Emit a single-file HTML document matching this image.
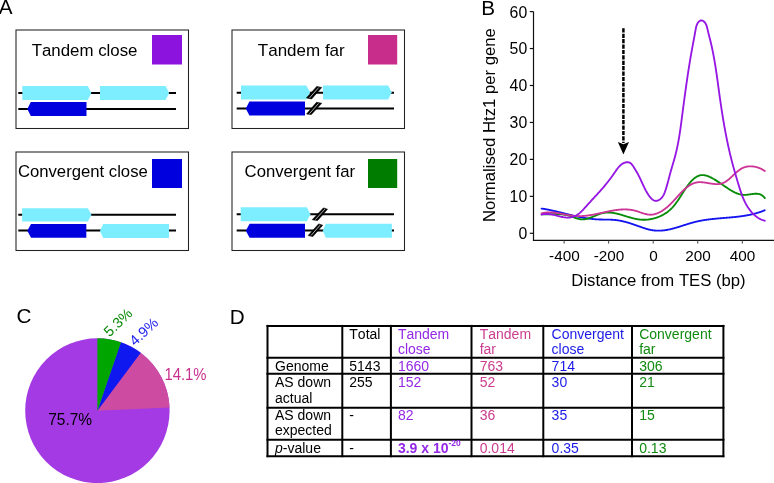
<!DOCTYPE html>
<html><head><meta charset="utf-8"><style>
html,body{margin:0;padding:0;background:#fff;}
body{width:774px;height:483px;overflow:hidden;}
svg{display:block;font-family:"Liberation Sans", sans-serif;will-change:transform;font-kerning:none;}
</style></head><body>
<svg width="774" height="483" viewBox="0 0 774 483" font-family='"Liberation Sans", sans-serif'>
<text x="-1.2" y="14.2" font-size="20.7">A</text>
<rect x="16" y="30" width="172.5" height="98.5" fill="none" stroke="#222" stroke-width="1.05"/>
<text x="31.7" y="55.5" font-size="16.85">Tandem close</text>
<rect x="152" y="35" width="30" height="29.5" fill="#8c12de"/>
<line x1="18.3" y1="93" x2="176" y2="93" stroke="#000" stroke-width="2"/>
<line x1="18.3" y1="109" x2="176" y2="109" stroke="#000" stroke-width="2"/>
<polygon points="22.3,86 87.8,86 91.4,93.0 87.8,100 22.3,100" fill="#7deeff"/>
<polygon points="100,86 165.6,86 169.2,93.0 165.6,100 100,100" fill="#7deeff"/>
<polygon points="27.3,109.0 30.8,102 86.5,102 86.5,116 30.8,116" fill="#0000de"/>
<rect x="232" y="30" width="172.5" height="98.5" fill="none" stroke="#222" stroke-width="1.05"/>
<text x="257.8" y="55.5" font-size="17">Tandem far</text>
<rect x="368" y="35" width="29.2" height="29.5" fill="#c82d8c"/>
<line x1="236.7" y1="92.7" x2="394" y2="92.7" stroke="#000" stroke-width="2"/>
<line x1="236.7" y1="108.6" x2="394" y2="108.6" stroke="#000" stroke-width="2"/>
<polygon points="241,85.6 306.3,85.6 310.2,92.6 306.3,99.6 241,99.6" fill="#7deeff"/>
<polygon points="323,85.6 388.2,85.6 391.7,92.6 388.2,99.6 323,99.6" fill="#7deeff"/>
<polygon points="245.8,108.6 249.4,101.6 305,101.6 305,115.6 249.4,115.6" fill="#0000de"/>
<polygon points="306.4,97.9 311.6,99 321.7,87.5 316.8,86.4" fill="#000" stroke="#000" stroke-width="0.6" stroke-linejoin="round"/>
<line x1="309.51" y1="97.88" x2="318.74" y2="87.52" stroke="#e8e8e8" stroke-width="0.75"/>
<polygon points="306.6,114 311.3,114.6 321.7,103.3 316.5,102.3" fill="#000" stroke="#000" stroke-width="0.6" stroke-linejoin="round"/>
<line x1="309.46" y1="113.72" x2="318.59" y2="103.38" stroke="#e8e8e8" stroke-width="0.75"/>
<rect x="16" y="152" width="172.5" height="98.5" fill="none" stroke="#222" stroke-width="1.05"/>
<text x="17.9" y="176.6" font-size="16.7">Convergent close</text>
<rect x="152" y="159" width="30" height="29" fill="#0000de"/>
<line x1="18.3" y1="214.8" x2="176" y2="214.8" stroke="#000" stroke-width="2"/>
<line x1="18.3" y1="230.6" x2="176" y2="230.6" stroke="#000" stroke-width="2"/>
<polygon points="22.1,208.2 87.9,208.2 91.5,214.89999999999998 87.9,221.6 22.1,221.6" fill="#7deeff"/>
<polygon points="27.3,230.8 31,223.9 86.3,223.9 86.3,237.7 31,237.7" fill="#0000de"/>
<polygon points="99.9,231.0 103.2,224 169,224 169,238 103.2,238" fill="#7deeff"/>
<rect x="232" y="152" width="172.5" height="98.5" fill="none" stroke="#222" stroke-width="1.05"/>
<text x="244.6" y="176.6" font-size="16.7">Convergent far</text>
<rect x="368" y="159" width="29.2" height="29" fill="#007d00"/>
<line x1="236.7" y1="214.2" x2="394" y2="214.2" stroke="#000" stroke-width="2"/>
<line x1="236.7" y1="230.6" x2="394" y2="230.6" stroke="#000" stroke-width="2"/>
<polygon points="240.7,207.2 306.9,207.2 310.4,214.2 306.9,221.2 240.7,221.2" fill="#7deeff"/>
<polygon points="245.8,230.8 249.6,223.8 305,223.8 305,237.8 249.6,237.8" fill="#0000de"/>
<polygon points="322.8,230.8 325.8,223.8 391.9,223.8 391.9,237.8 325.8,237.8" fill="#7deeff"/>
<polygon points="312.2,219.7 317.6,220.6 327.5,209.2 323.4,207.9" fill="#000" stroke="#000" stroke-width="0.6" stroke-linejoin="round"/>
<line x1="315.43" y1="219.57" x2="324.92" y2="209.13" stroke="#e8e8e8" stroke-width="0.75"/>
<polygon points="308.2,235.5 312.8,236.6 322.7,225.2 318.6,223.9" fill="#000" stroke="#000" stroke-width="0.6" stroke-linejoin="round"/>
<line x1="311.01" y1="235.47" x2="320.14" y2="225.12" stroke="#e8e8e8" stroke-width="0.75"/>
<text x="481.3" y="14.9" font-size="20.7">B</text>
<line x1="533.5" y1="11.6" x2="533.5" y2="240.5" stroke="#111" stroke-width="1.2"/>
<line x1="532.9" y1="240.4" x2="774" y2="240.4" stroke="#111" stroke-width="1.2"/>
<line x1="529.8" y1="233.30" x2="533.5" y2="233.30" stroke="#111" stroke-width="1.2"/>
<text x="527.2" y="239.20" font-size="15.8" text-anchor="end">0</text>
<line x1="529.8" y1="196.35" x2="533.5" y2="196.35" stroke="#111" stroke-width="1.2"/>
<text x="527.2" y="202.25" font-size="15.8" text-anchor="end">10</text>
<line x1="529.8" y1="159.40" x2="533.5" y2="159.40" stroke="#111" stroke-width="1.2"/>
<text x="527.2" y="165.30" font-size="15.8" text-anchor="end">20</text>
<line x1="529.8" y1="122.45" x2="533.5" y2="122.45" stroke="#111" stroke-width="1.2"/>
<text x="527.2" y="128.35" font-size="15.8" text-anchor="end">30</text>
<line x1="529.8" y1="85.50" x2="533.5" y2="85.50" stroke="#111" stroke-width="1.2"/>
<text x="527.2" y="91.40" font-size="15.8" text-anchor="end">40</text>
<line x1="529.8" y1="48.55" x2="533.5" y2="48.55" stroke="#111" stroke-width="1.2"/>
<text x="527.2" y="54.45" font-size="15.8" text-anchor="end">50</text>
<line x1="529.8" y1="11.60" x2="533.5" y2="11.60" stroke="#111" stroke-width="1.2"/>
<text x="527.2" y="17.50" font-size="15.8" text-anchor="end">60</text>
<line x1="564.10" y1="240.5" x2="564.10" y2="243.6" stroke="#444" stroke-width="1"/>
<text x="564.40" y="261" font-size="15.3" text-anchor="middle">-400</text>
<line x1="608.65" y1="240.5" x2="608.65" y2="243.6" stroke="#444" stroke-width="1"/>
<text x="608.95" y="261" font-size="15.3" text-anchor="middle">-200</text>
<line x1="653.20" y1="240.5" x2="653.20" y2="243.6" stroke="#444" stroke-width="1"/>
<text x="653.50" y="261" font-size="15.3" text-anchor="middle">0</text>
<line x1="697.75" y1="240.5" x2="697.75" y2="243.6" stroke="#444" stroke-width="1"/>
<text x="698.05" y="261" font-size="15.3" text-anchor="middle">200</text>
<line x1="742.30" y1="240.5" x2="742.30" y2="243.6" stroke="#444" stroke-width="1"/>
<text x="742.60" y="261" font-size="15.3" text-anchor="middle">400</text>
<text x="658.5" y="285.8" font-size="16.7" text-anchor="middle">Distance from TES (bp)</text>
<text transform="translate(495.3,125.1) rotate(-90)" x="0" y="0" font-size="16.7" text-anchor="middle">Normalised Htz1 per gene</text>
<path d="M541.57,208.56 L541.95,208.61 L542.33,208.67 L542.70,208.72 L543.08,208.78 L543.46,208.84 L543.83,208.90 L544.21,208.96 L544.58,209.02 L544.96,209.09 L545.33,209.15 L545.71,209.22 L546.08,209.28 L546.46,209.35 L546.83,209.42 L547.21,209.49 L547.58,209.56 L547.95,209.63 L548.33,209.71 L548.70,209.78 L549.08,209.85 L549.45,209.93 L549.82,210.01 L550.20,210.08 L550.57,210.16 L550.94,210.24 L551.31,210.32 L551.69,210.40 L552.06,210.48 L552.43,210.56 L552.80,210.64 L553.18,210.73 L553.55,210.81 L553.92,210.89 L554.29,210.98 L554.66,211.06 L555.03,211.15 L555.41,211.24 L555.78,211.32 L556.15,211.41 L556.52,211.50 L556.89,211.59 L557.26,211.68 L557.63,211.77 L558.00,211.85 L558.38,211.94 L558.75,212.04 L559.12,212.13 L559.49,212.22 L559.86,212.31 L560.23,212.40 L560.60,212.49 L560.97,212.58 L561.34,212.68 L561.71,212.77 L562.08,212.86 L562.45,212.95 L562.82,213.05 L563.19,213.14 L563.57,213.23 L563.94,213.32 L564.31,213.42 L564.68,213.51 L565.05,213.60 L565.42,213.70 L565.79,213.79 L566.16,213.88 L566.53,213.98 L566.90,214.07 L567.27,214.16 L567.64,214.25 L568.01,214.35 L568.38,214.44 L568.75,214.53 L569.12,214.62 L569.50,214.71 L569.87,214.80 L570.24,214.89 L570.61,214.98 L570.98,215.07 L571.35,215.16 L571.72,215.25 L572.09,215.34 L572.46,215.43 L572.84,215.52 L573.21,215.61 L573.58,215.69 L573.95,215.78 L574.32,215.87 L574.69,215.95 L575.07,216.04 L575.44,216.12 L575.81,216.20 L576.18,216.29 L576.56,216.37 L576.93,216.45 L577.30,216.53 L577.67,216.61 L578.05,216.69 L578.42,216.77 L578.79,216.85 L579.17,216.93 L579.54,217.00 L579.91,217.08 L580.29,217.15 L580.66,217.23 L581.03,217.30 L581.41,217.37 L581.78,217.44 L582.16,217.51 L582.53,217.58 L582.91,217.65 L583.28,217.72 L583.66,217.78 L584.03,217.85 L584.41,217.91 L584.78,217.97 L585.16,218.04 L585.54,218.10 L585.91,218.16 L586.29,218.21 L586.66,218.27 L587.04,218.33 L587.42,218.38 L587.80,218.44 L588.17,218.49 L588.55,218.54 L588.93,218.59 L589.30,218.64 L589.68,218.69 L590.06,218.74 L590.44,218.78 L590.82,218.83 L591.20,218.87 L591.57,218.91 L591.95,218.95 L592.33,218.99 L592.71,219.03 L593.09,219.07 L593.47,219.10 L593.85,219.14 L594.23,219.17 L594.61,219.20 L594.99,219.23 L595.37,219.26 L595.75,219.29 L596.13,219.31 L596.51,219.34 L596.89,219.36 L597.27,219.38 L597.66,219.40 L598.04,219.42 L598.42,219.44 L598.80,219.45 L599.18,219.47 L599.57,219.48 L599.95,219.49 L600.33,219.50 L600.71,219.51 L601.10,219.52 L601.48,219.53 L601.86,219.53 L602.24,219.54 L602.63,219.55 L603.01,219.55 L603.39,219.56 L603.77,219.56 L604.16,219.56 L604.54,219.57 L604.92,219.57 L605.30,219.58 L605.69,219.58 L606.07,219.59 L606.45,219.59 L606.83,219.60 L607.21,219.60 L607.60,219.61 L607.98,219.62 L608.36,219.62 L608.74,219.63 L609.12,219.64 L609.50,219.65 L609.88,219.66 L610.26,219.68 L610.64,219.69 L611.02,219.71 L611.40,219.73 L611.78,219.75 L612.16,219.77 L612.53,219.79 L612.91,219.81 L613.29,219.84 L613.67,219.87 L614.04,219.90 L614.42,219.93 L614.79,219.97 L615.17,220.00 L615.54,220.04 L615.92,220.09 L616.29,220.13 L616.66,220.18 L617.04,220.23 L617.41,220.28 L617.78,220.34 L618.15,220.39 L618.52,220.45 L618.89,220.51 L619.26,220.57 L619.63,220.64 L620.00,220.71 L620.37,220.77 L620.74,220.85 L621.11,220.92 L621.48,220.99 L621.84,221.07 L622.21,221.15 L622.58,221.23 L622.94,221.31 L623.31,221.40 L623.68,221.48 L624.04,221.57 L624.41,221.66 L624.77,221.75 L625.14,221.85 L625.50,221.94 L625.87,222.04 L626.23,222.14 L626.60,222.24 L626.96,222.34 L627.33,222.44 L627.69,222.54 L628.05,222.65 L628.42,222.76 L628.78,222.86 L629.14,222.97 L629.51,223.09 L629.87,223.20 L630.23,223.31 L630.59,223.43 L630.96,223.54 L631.32,223.66 L631.68,223.78 L632.04,223.90 L632.41,224.02 L632.77,224.14 L633.13,224.26 L633.49,224.38 L633.85,224.51 L634.22,224.63 L634.58,224.76 L634.94,224.89 L635.30,225.02 L635.66,225.15 L636.03,225.28 L636.39,225.41 L636.75,225.54 L637.11,225.67 L637.47,225.80 L637.84,225.93 L638.20,226.06 L638.56,226.20 L638.92,226.33 L639.29,226.46 L639.65,226.59 L640.01,226.72 L640.37,226.85 L640.74,226.98 L641.10,227.11 L641.46,227.24 L641.83,227.37 L642.19,227.50 L642.55,227.62 L642.92,227.75 L643.28,227.87 L643.65,227.99 L644.01,228.11 L644.38,228.23 L644.74,228.35 L645.10,228.46 L645.47,228.58 L645.84,228.69 L646.20,228.80 L646.57,228.90 L646.93,229.01 L647.30,229.11 L647.67,229.21 L648.03,229.31 L648.40,229.40 L648.77,229.49 L649.14,229.58 L649.50,229.66 L649.87,229.74 L650.24,229.82 L650.61,229.90 L650.98,229.97 L651.35,230.04 L651.72,230.10 L652.09,230.16 L652.46,230.22 L652.83,230.28 L653.20,230.33 L653.57,230.38 L653.94,230.42 L654.32,230.46 L654.69,230.50 L655.06,230.53 L655.43,230.56 L655.80,230.59 L656.17,230.62 L656.55,230.64 L656.92,230.65 L657.29,230.67 L657.66,230.68 L658.03,230.68 L658.41,230.69 L658.78,230.69 L659.15,230.69 L659.52,230.68 L659.89,230.67 L660.26,230.66 L660.64,230.64 L661.01,230.62 L661.38,230.60 L661.75,230.57 L662.12,230.54 L662.49,230.51 L662.86,230.48 L663.23,230.44 L663.60,230.40 L663.97,230.35 L664.34,230.31 L664.71,230.26 L665.08,230.21 L665.45,230.15 L665.82,230.09 L666.19,230.03 L666.56,229.97 L666.93,229.91 L667.30,229.84 L667.67,229.77 L668.04,229.70 L668.41,229.63 L668.78,229.55 L669.15,229.47 L669.52,229.39 L669.89,229.31 L670.26,229.23 L670.63,229.14 L671.00,229.05 L671.37,228.96 L671.74,228.87 L672.10,228.78 L672.47,228.68 L672.84,228.59 L673.21,228.49 L673.58,228.39 L673.95,228.29 L674.32,228.19 L674.69,228.09 L675.06,227.98 L675.43,227.88 L675.79,227.77 L676.16,227.66 L676.53,227.55 L676.90,227.44 L677.27,227.33 L677.64,227.22 L678.01,227.11 L678.38,227.00 L678.75,226.88 L679.12,226.77 L679.48,226.65 L679.85,226.54 L680.22,226.42 L680.59,226.30 L680.96,226.18 L681.33,226.07 L681.70,225.95 L682.07,225.83 L682.44,225.71 L682.81,225.59 L683.18,225.48 L683.55,225.36 L683.92,225.24 L684.29,225.12 L684.66,225.00 L685.03,224.88 L685.40,224.77 L685.77,224.65 L686.14,224.53 L686.51,224.41 L686.88,224.30 L687.25,224.18 L687.62,224.07 L687.99,223.95 L688.36,223.84 L688.73,223.72 L689.10,223.61 L689.47,223.50 L689.84,223.39 L690.21,223.28 L690.59,223.17 L690.96,223.06 L691.33,222.95 L691.70,222.85 L692.07,222.74 L692.44,222.64 L692.82,222.53 L693.19,222.43 L693.56,222.33 L693.93,222.24 L694.31,222.14 L694.68,222.04 L695.05,221.95 L695.42,221.86 L695.80,221.77 L696.17,221.68 L696.54,221.59 L696.92,221.51 L697.29,221.42 L697.67,221.34 L698.04,221.26 L698.41,221.18 L698.79,221.10 L699.16,221.02 L699.54,220.95 L699.91,220.87 L700.29,220.80 L700.66,220.73 L701.04,220.66 L701.41,220.59 L701.79,220.52 L702.16,220.45 L702.54,220.39 L702.91,220.32 L703.29,220.26 L703.66,220.20 L704.04,220.14 L704.42,220.08 L704.79,220.02 L705.17,219.96 L705.54,219.90 L705.92,219.85 L706.30,219.79 L706.67,219.74 L707.05,219.69 L707.43,219.63 L707.80,219.58 L708.18,219.53 L708.56,219.48 L708.93,219.44 L709.31,219.39 L709.69,219.34 L710.06,219.30 L710.44,219.25 L710.82,219.21 L711.20,219.16 L711.57,219.12 L711.95,219.08 L712.33,219.04 L712.71,219.00 L713.08,218.96 L713.46,218.92 L713.84,218.88 L714.22,218.84 L714.60,218.80 L714.97,218.76 L715.35,218.73 L715.73,218.69 L716.11,218.65 L716.48,218.62 L716.86,218.58 L717.24,218.55 L717.62,218.51 L718.00,218.48 L718.38,218.45 L718.75,218.41 L719.13,218.38 L719.51,218.35 L719.89,218.32 L720.27,218.28 L720.64,218.25 L721.02,218.22 L721.40,218.19 L721.78,218.16 L722.16,218.13 L722.53,218.09 L722.91,218.06 L723.29,218.03 L723.67,218.00 L724.05,217.97 L724.43,217.94 L724.80,217.91 L725.18,217.88 L725.56,217.85 L725.94,217.82 L726.32,217.78 L726.69,217.75 L727.07,217.72 L727.45,217.69 L727.83,217.66 L728.21,217.63 L728.58,217.59 L728.96,217.56 L729.34,217.53 L729.72,217.50 L730.10,217.46 L730.47,217.43 L730.85,217.40 L731.23,217.36 L731.61,217.33 L731.98,217.29 L732.36,217.26 L732.74,217.22 L733.12,217.19 L733.49,217.15 L733.87,217.11 L734.25,217.07 L734.62,217.04 L735.00,217.00 L735.38,216.96 L735.76,216.92 L736.13,216.88 L736.51,216.83 L736.89,216.79 L737.26,216.75 L737.64,216.71 L738.01,216.66 L738.39,216.62 L738.77,216.57 L739.14,216.53 L739.52,216.48 L739.90,216.43 L740.27,216.38 L740.65,216.33 L741.02,216.28 L741.40,216.23 L741.77,216.18 L742.15,216.12 L742.52,216.07 L742.90,216.01 L743.27,215.96 L743.65,215.90 L744.02,215.84 L744.40,215.78 L744.77,215.72 L745.15,215.66 L745.52,215.60 L745.89,215.53 L746.27,215.47 L746.64,215.40 L747.02,215.33 L747.39,215.26 L747.76,215.19 L748.14,215.12 L748.51,215.05 L748.88,214.98 L749.26,214.90 L749.63,214.82 L750.00,214.75 L750.37,214.67 L750.75,214.59 L751.12,214.50 L751.49,214.42 L751.86,214.33 L752.23,214.25 L752.60,214.16 L752.98,214.07 L753.35,213.98 L753.72,213.88 L754.09,213.79 L754.46,213.69 L754.83,213.59 L755.20,213.49 L755.57,213.39 L755.94,213.29 L756.31,213.19 L756.68,213.08 L757.05,212.97 L757.42,212.86 L757.79,212.75 L758.15,212.64 L758.52,212.52 L758.89,212.40 L759.26,212.28 L759.63,212.16 L759.99,212.04 L760.36,211.91 L760.73,211.79 L761.10,211.66 L761.46,211.53 L761.83,211.39 L762.20,211.26 L762.56,211.12 L762.93,210.98 L763.29,210.84 L763.66,210.69 L764.02,210.55 L764.39,210.40 L764.75,210.25" fill="none" stroke="#1414f0" stroke-width="1.85" stroke-linejoin="round" stroke-linecap="round"/>
<path d="M541.60,214.32 L542.02,214.33 L542.44,214.33 L542.87,214.34 L543.29,214.34 L543.71,214.34 L544.13,214.34 L544.55,214.33 L544.98,214.33 L545.40,214.32 L545.82,214.32 L546.24,214.31 L546.66,214.30 L547.08,214.29 L547.50,214.28 L547.92,214.27 L548.35,214.26 L548.77,214.25 L549.19,214.24 L549.61,214.23 L550.03,214.22 L550.45,214.21 L550.87,214.20 L551.29,214.19 L551.71,214.18 L552.13,214.17 L552.54,214.16 L552.96,214.15 L553.38,214.15 L553.80,214.14 L554.22,214.14 L554.64,214.13 L555.06,214.13 L555.47,214.13 L555.89,214.13 L556.31,214.14 L556.73,214.14 L557.14,214.15 L557.56,214.16 L557.98,214.17 L558.39,214.18 L558.81,214.20 L559.23,214.22 L559.64,214.24 L560.06,214.26 L560.48,214.29 L560.89,214.32 L561.31,214.36 L561.72,214.39 L562.14,214.43 L562.55,214.47 L562.97,214.52 L563.38,214.57 L563.79,214.63 L564.21,214.68 L564.62,214.75 L565.03,214.81 L565.45,214.88 L565.86,214.96 L566.27,215.04 L566.69,215.12 L567.10,215.21 L567.51,215.31 L567.92,215.40 L568.33,215.51 L568.74,215.62 L569.15,215.73 L569.57,215.85 L569.98,215.98 L570.39,216.11 L570.80,216.24 L571.21,216.38 L571.62,216.52 L572.02,216.67 L572.43,216.82 L572.84,216.97 L573.25,217.12 L573.66,217.27 L574.07,217.42 L574.48,217.57 L574.89,217.72 L575.29,217.86 L575.70,218.00 L576.11,218.14 L576.52,218.28 L576.92,218.41 L577.33,218.54 L577.74,218.66 L578.15,218.77 L578.55,218.88 L578.96,218.97 L579.37,219.06 L579.78,219.14 L580.18,219.21 L580.59,219.27 L581.00,219.32 L581.41,219.36 L581.81,219.39 L582.22,219.40 L582.63,219.40 L583.04,219.39 L583.44,219.37 L583.85,219.34 L584.26,219.30 L584.67,219.24 L585.08,219.18 L585.48,219.11 L585.89,219.03 L586.30,218.95 L586.71,218.85 L587.11,218.75 L587.52,218.64 L587.93,218.52 L588.34,218.40 L588.74,218.27 L589.15,218.14 L589.56,218.00 L589.97,217.85 L590.37,217.70 L590.78,217.55 L591.19,217.40 L591.60,217.24 L592.00,217.07 L592.41,216.91 L592.82,216.74 L593.22,216.58 L593.63,216.41 L594.04,216.24 L594.44,216.07 L594.85,215.89 L595.25,215.72 L595.66,215.55 L596.06,215.39 L596.47,215.22 L596.88,215.05 L597.28,214.89 L597.69,214.73 L598.09,214.58 L598.49,214.42 L598.90,214.27 L599.30,214.13 L599.71,213.99 L600.11,213.85 L600.51,213.72 L600.92,213.60 L601.32,213.48 L601.72,213.37 L602.13,213.26 L602.53,213.17 L602.93,213.08 L603.33,212.99 L603.73,212.92 L604.13,212.85 L604.54,212.79 L604.94,212.74 L605.34,212.69 L605.74,212.65 L606.14,212.61 L606.54,212.59 L606.94,212.56 L607.34,212.55 L607.74,212.54 L608.14,212.54 L608.54,212.54 L608.94,212.54 L609.33,212.56 L609.73,212.58 L610.13,212.60 L610.53,212.63 L610.93,212.66 L611.33,212.70 L611.73,212.74 L612.13,212.79 L612.52,212.84 L612.92,212.90 L613.32,212.96 L613.72,213.02 L614.12,213.09 L614.52,213.16 L614.92,213.23 L615.31,213.31 L615.71,213.40 L616.11,213.48 L616.51,213.57 L616.91,213.66 L617.31,213.75 L617.71,213.85 L618.10,213.95 L618.50,214.05 L618.90,214.16 L619.30,214.26 L619.70,214.37 L620.10,214.48 L620.50,214.60 L620.90,214.71 L621.30,214.82 L621.70,214.94 L622.10,215.06 L622.50,215.18 L622.90,215.30 L623.30,215.42 L623.70,215.54 L624.11,215.67 L624.51,215.79 L624.91,215.91 L625.31,216.04 L625.71,216.16 L626.12,216.28 L626.52,216.41 L626.92,216.53 L627.32,216.66 L627.73,216.78 L628.13,216.90 L628.54,217.02 L628.94,217.14 L629.35,217.26 L629.75,217.38 L630.16,217.50 L630.56,217.61 L630.97,217.72 L631.38,217.84 L631.78,217.95 L632.19,218.06 L632.60,218.16 L633.01,218.27 L633.42,218.37 L633.83,218.47 L634.24,218.56 L634.65,218.66 L635.06,218.75 L635.47,218.84 L635.88,218.92 L636.29,219.00 L636.70,219.08 L637.12,219.16 L637.53,219.23 L637.95,219.30 L638.36,219.36 L638.78,219.42 L639.19,219.47 L639.61,219.52 L640.02,219.57 L640.44,219.61 L640.86,219.65 L641.28,219.68 L641.70,219.71 L642.12,219.73 L642.54,219.75 L642.96,219.77 L643.38,219.77 L643.80,219.78 L644.22,219.78 L644.65,219.77 L645.07,219.76 L645.49,219.74 L645.91,219.72 L646.33,219.70 L646.76,219.67 L647.18,219.63 L647.60,219.59 L648.02,219.55 L648.44,219.50 L648.87,219.45 L649.29,219.39 L649.71,219.33 L650.13,219.26 L650.54,219.19 L650.96,219.11 L651.38,219.03 L651.80,218.95 L652.21,218.86 L652.63,218.77 L653.04,218.67 L653.46,218.57 L653.87,218.46 L654.28,218.35 L654.69,218.23 L655.10,218.11 L655.51,217.99 L655.91,217.86 L656.32,217.73 L656.72,217.59 L657.12,217.45 L657.52,217.31 L657.92,217.16 L658.32,217.01 L658.71,216.85 L659.10,216.69 L659.50,216.52 L659.88,216.36 L660.27,216.18 L660.66,216.01 L661.04,215.82 L661.42,215.64 L661.80,215.45 L662.18,215.26 L662.55,215.06 L662.92,214.86 L663.29,214.66 L663.66,214.45 L664.02,214.24 L664.39,214.02 L664.75,213.80 L665.10,213.58 L665.46,213.35 L665.81,213.12 L666.15,212.89 L666.50,212.65 L666.84,212.41 L667.18,212.17 L667.51,211.92 L667.85,211.67 L668.18,211.41 L668.50,211.15 L668.82,210.89 L669.14,210.63 L669.46,210.36 L669.77,210.09 L670.08,209.81 L670.38,209.53 L670.69,209.25 L670.98,208.96 L671.28,208.67 L671.57,208.38 L671.86,208.09 L672.14,207.79 L672.42,207.49 L672.70,207.19 L672.98,206.88 L673.25,206.57 L673.52,206.26 L673.79,205.94 L674.06,205.63 L674.32,205.31 L674.58,204.99 L674.84,204.66 L675.10,204.34 L675.35,204.01 L675.60,203.68 L675.85,203.35 L676.10,203.01 L676.35,202.68 L676.59,202.34 L676.84,202.00 L677.08,201.66 L677.32,201.32 L677.56,200.97 L677.80,200.63 L678.03,200.28 L678.27,199.93 L678.50,199.58 L678.74,199.23 L678.97,198.88 L679.20,198.52 L679.43,198.17 L679.66,197.81 L679.89,197.46 L680.12,197.10 L680.35,196.74 L680.58,196.38 L680.81,196.02 L681.03,195.66 L681.26,195.30 L681.49,194.94 L681.72,194.58 L681.95,194.22 L682.18,193.85 L682.40,193.49 L682.63,193.13 L682.86,192.77 L683.09,192.40 L683.33,192.04 L683.56,191.68 L683.79,191.32 L684.02,190.95 L684.26,190.59 L684.49,190.23 L684.73,189.87 L684.97,189.51 L685.21,189.15 L685.45,188.79 L685.69,188.43 L685.94,188.08 L686.18,187.72 L686.43,187.36 L686.68,187.01 L686.93,186.66 L687.18,186.30 L687.44,185.95 L687.70,185.60 L687.96,185.25 L688.22,184.90 L688.48,184.56 L688.75,184.21 L689.02,183.87 L689.29,183.53 L689.57,183.19 L689.84,182.86 L690.12,182.52 L690.40,182.20 L690.69,181.87 L690.97,181.55 L691.26,181.23 L691.55,180.92 L691.85,180.61 L692.15,180.31 L692.44,180.01 L692.75,179.72 L693.05,179.43 L693.36,179.15 L693.67,178.88 L693.98,178.61 L694.29,178.35 L694.61,178.10 L694.93,177.86 L695.25,177.62 L695.58,177.40 L695.90,177.18 L696.23,176.97 L696.56,176.77 L696.90,176.58 L697.24,176.40 L697.58,176.23 L697.92,176.07 L698.26,175.92 L698.61,175.78 L698.96,175.65 L699.32,175.54 L699.67,175.43 L700.03,175.34 L700.39,175.26 L700.75,175.20 L701.12,175.14 L701.49,175.10 L701.86,175.08 L702.23,175.06 L702.61,175.06 L702.99,175.08 L703.37,175.10 L703.75,175.14 L704.13,175.18 L704.52,175.24 L704.91,175.31 L705.30,175.39 L705.69,175.48 L706.08,175.58 L706.47,175.69 L706.86,175.81 L707.26,175.94 L707.66,176.08 L708.05,176.22 L708.45,176.38 L708.85,176.54 L709.24,176.71 L709.64,176.88 L710.04,177.06 L710.44,177.25 L710.84,177.45 L711.24,177.65 L711.63,177.85 L712.03,178.06 L712.43,178.28 L712.83,178.50 L713.22,178.73 L713.62,178.95 L714.01,179.19 L714.40,179.42 L714.79,179.66 L715.18,179.90 L715.57,180.14 L715.96,180.39 L716.34,180.63 L716.73,180.88 L717.11,181.13 L717.49,181.38 L717.86,181.63 L718.24,181.88 L718.61,182.13 L718.98,182.37 L719.35,182.62 L719.71,182.87 L720.08,183.11 L720.44,183.36 L720.79,183.60 L721.15,183.84 L721.50,184.08 L721.85,184.31 L722.20,184.55 L722.54,184.79 L722.89,185.02 L723.23,185.25 L723.57,185.49 L723.91,185.72 L724.26,185.95 L724.60,186.18 L724.94,186.41 L725.28,186.64 L725.62,186.88 L725.96,187.11 L726.31,187.34 L726.65,187.57 L726.99,187.80 L727.34,188.04 L727.69,188.27 L728.03,188.50 L728.38,188.73 L728.73,188.95 L729.08,189.18 L729.43,189.41 L729.78,189.63 L730.13,189.85 L730.49,190.07 L730.84,190.29 L731.20,190.50 L731.55,190.72 L731.91,190.92 L732.27,191.13 L732.63,191.33 L733.00,191.53 L733.36,191.73 L733.72,191.92 L734.09,192.11 L734.46,192.29 L734.83,192.47 L735.20,192.64 L735.57,192.81 L735.94,192.97 L736.32,193.13 L736.69,193.29 L737.07,193.43 L737.45,193.58 L737.83,193.71 L738.22,193.84 L738.60,193.96 L738.99,194.08 L739.38,194.19 L739.77,194.29 L740.16,194.38 L740.55,194.47 L740.95,194.55 L741.35,194.62 L741.75,194.69 L742.15,194.74 L742.55,194.79 L742.96,194.83 L743.37,194.86 L743.78,194.88 L744.19,194.89 L744.61,194.89 L745.02,194.88 L745.44,194.87 L745.86,194.84 L746.28,194.81 L746.71,194.78 L747.13,194.73 L747.56,194.68 L747.99,194.63 L748.42,194.57 L748.84,194.52 L749.27,194.45 L749.70,194.39 L750.13,194.33 L750.56,194.26 L750.99,194.20 L751.42,194.13 L751.85,194.07 L752.27,194.02 L752.70,193.96 L753.12,193.91 L753.55,193.86 L753.97,193.82 L754.39,193.79 L754.81,193.76 L755.23,193.74 L755.64,193.73 L756.06,193.72 L756.47,193.73 L756.87,193.74 L757.28,193.77 L757.68,193.81 L758.08,193.86 L758.47,193.93 L758.86,194.00 L759.25,194.10 L759.64,194.20 L760.02,194.33 L760.39,194.47 L760.76,194.62 L761.13,194.80 L761.49,194.99 L761.85,195.20 L762.20,195.44 L762.55,195.69 L762.89,195.97 L763.23,196.26 L763.56,196.58 L763.88,196.93 L764.20,197.29 L764.51,197.69 L764.82,198.10" fill="none" stroke="#078c07" stroke-width="1.85" stroke-linejoin="round" stroke-linecap="round"/>
<path d="M541.59,213.40 L542.00,213.29 L542.40,213.19 L542.81,213.10 L543.22,213.01 L543.62,212.93 L544.03,212.85 L544.43,212.78 L544.84,212.72 L545.24,212.66 L545.65,212.61 L546.06,212.56 L546.46,212.52 L546.86,212.49 L547.27,212.46 L547.67,212.43 L548.08,212.41 L548.48,212.40 L548.89,212.39 L549.29,212.38 L549.70,212.38 L550.10,212.39 L550.50,212.39 L550.91,212.40 L551.31,212.42 L551.71,212.44 L552.12,212.46 L552.52,212.49 L552.92,212.52 L553.33,212.56 L553.73,212.59 L554.13,212.63 L554.54,212.68 L554.94,212.72 L555.34,212.77 L555.74,212.82 L556.15,212.88 L556.55,212.94 L556.95,212.99 L557.35,213.06 L557.76,213.12 L558.16,213.18 L558.56,213.25 L558.96,213.32 L559.37,213.39 L559.77,213.46 L560.17,213.54 L560.57,213.61 L560.97,213.68 L561.38,213.76 L561.78,213.84 L562.18,213.92 L562.58,213.99 L562.98,214.07 L563.38,214.15 L563.79,214.23 L564.19,214.31 L564.59,214.39 L564.99,214.47 L565.39,214.54 L565.79,214.62 L566.20,214.70 L566.60,214.78 L567.00,214.85 L567.40,214.93 L567.80,215.00 L568.20,215.08 L568.61,215.15 L569.01,215.22 L569.41,215.29 L569.81,215.35 L570.21,215.42 L570.61,215.48 L571.02,215.54 L571.42,215.60 L571.82,215.66 L572.22,215.71 L572.62,215.76 L573.02,215.81 L573.43,215.86 L573.83,215.90 L574.23,215.94 L574.63,215.98 L575.03,216.01 L575.44,216.04 L575.84,216.07 L576.24,216.09 L576.64,216.11 L577.04,216.13 L577.45,216.14 L577.85,216.15 L578.25,216.16 L578.65,216.16 L579.05,216.16 L579.46,216.16 L579.86,216.16 L580.26,216.15 L580.66,216.14 L581.07,216.12 L581.47,216.11 L581.87,216.09 L582.27,216.06 L582.68,216.04 L583.08,216.01 L583.48,215.98 L583.88,215.95 L584.29,215.92 L584.69,215.88 L585.09,215.84 L585.49,215.80 L585.90,215.75 L586.30,215.71 L586.70,215.66 L587.10,215.61 L587.51,215.56 L587.91,215.50 L588.31,215.45 L588.71,215.39 L589.12,215.33 L589.52,215.27 L589.92,215.21 L590.32,215.14 L590.73,215.08 L591.13,215.01 L591.53,214.94 L591.93,214.87 L592.33,214.80 L592.74,214.73 L593.14,214.65 L593.54,214.58 L593.94,214.50 L594.34,214.42 L594.75,214.34 L595.15,214.27 L595.55,214.18 L595.95,214.10 L596.35,214.02 L596.76,213.94 L597.16,213.85 L597.56,213.77 L597.96,213.68 L598.36,213.60 L598.76,213.51 L599.16,213.43 L599.57,213.34 L599.97,213.25 L600.37,213.16 L600.77,213.08 L601.17,212.99 L601.57,212.90 L601.97,212.81 L602.37,212.72 L602.77,212.63 L603.17,212.55 L603.57,212.46 L603.97,212.37 L604.37,212.28 L604.77,212.19 L605.17,212.11 L605.57,212.02 L605.97,211.93 L606.37,211.85 L606.77,211.76 L607.17,211.68 L607.57,211.59 L607.97,211.51 L608.37,211.43 L608.77,211.35 L609.17,211.27 L609.57,211.19 L609.97,211.11 L610.37,211.03 L610.76,210.95 L611.16,210.88 L611.56,210.80 L611.96,210.73 L612.36,210.66 L612.76,210.59 L613.15,210.52 L613.55,210.45 L613.95,210.39 L614.35,210.32 L614.75,210.26 L615.14,210.20 L615.54,210.14 L615.94,210.09 L616.34,210.03 L616.73,209.98 L617.13,209.93 L617.53,209.88 L617.93,209.83 L618.32,209.79 L618.72,209.75 L619.12,209.71 L619.51,209.67 L619.91,209.63 L620.31,209.60 L620.70,209.57 L621.10,209.54 L621.49,209.52 L621.89,209.50 L622.29,209.48 L622.68,209.46 L623.08,209.45 L623.47,209.43 L623.87,209.43 L624.26,209.42 L624.66,209.42 L625.05,209.42 L625.45,209.43 L625.84,209.43 L626.24,209.45 L626.63,209.46 L627.03,209.48 L627.42,209.50 L627.82,209.52 L628.21,209.55 L628.61,209.58 L629.00,209.62 L629.39,209.66 L629.79,209.70 L630.18,209.75 L630.58,209.80 L630.97,209.86 L631.36,209.92 L631.76,209.98 L632.15,210.05 L632.54,210.12 L632.94,210.20 L633.33,210.28 L633.72,210.36 L634.11,210.45 L634.51,210.54 L634.90,210.64 L635.29,210.75 L635.68,210.85 L636.08,210.96 L636.47,211.08 L636.86,211.20 L637.25,211.32 L637.64,211.45 L638.03,211.58 L638.43,211.71 L638.82,211.84 L639.21,211.98 L639.60,212.11 L639.99,212.25 L640.38,212.39 L640.78,212.52 L641.17,212.66 L641.56,212.79 L641.95,212.93 L642.34,213.06 L642.73,213.19 L643.13,213.31 L643.52,213.44 L643.91,213.56 L644.30,213.68 L644.69,213.79 L645.09,213.90 L645.48,214.00 L645.87,214.10 L646.27,214.19 L646.66,214.28 L647.05,214.36 L647.44,214.43 L647.84,214.50 L648.23,214.55 L648.63,214.60 L649.02,214.65 L649.41,214.68 L649.81,214.70 L650.20,214.72 L650.60,214.72 L651.00,214.72 L651.39,214.70 L651.79,214.67 L652.18,214.63 L652.58,214.58 L652.98,214.53 L653.37,214.46 L653.77,214.38 L654.16,214.29 L654.55,214.20 L654.95,214.09 L655.34,213.98 L655.73,213.86 L656.12,213.73 L656.50,213.60 L656.89,213.46 L657.27,213.31 L657.66,213.15 L658.03,212.99 L658.41,212.82 L658.79,212.65 L659.16,212.47 L659.53,212.29 L659.90,212.10 L660.26,211.91 L660.62,211.71 L660.98,211.51 L661.33,211.30 L661.69,211.09 L662.04,210.88 L662.38,210.66 L662.73,210.44 L663.07,210.22 L663.41,209.99 L663.75,209.75 L664.08,209.52 L664.41,209.28 L664.74,209.04 L665.07,208.79 L665.39,208.54 L665.72,208.29 L666.04,208.03 L666.36,207.77 L666.67,207.51 L666.99,207.25 L667.30,206.98 L667.61,206.71 L667.92,206.44 L668.23,206.17 L668.53,205.89 L668.84,205.61 L669.14,205.33 L669.44,205.05 L669.74,204.76 L670.04,204.47 L670.34,204.19 L670.63,203.89 L670.92,203.60 L671.22,203.31 L671.51,203.01 L671.80,202.72 L672.09,202.42 L672.38,202.12 L672.67,201.82 L672.95,201.51 L673.24,201.21 L673.53,200.91 L673.81,200.60 L674.09,200.30 L674.38,199.99 L674.66,199.68 L674.94,199.37 L675.22,199.07 L675.51,198.76 L675.79,198.45 L676.07,198.14 L676.35,197.83 L676.63,197.52 L676.91,197.21 L677.19,196.90 L677.47,196.60 L677.75,196.29 L678.03,195.98 L678.31,195.67 L678.59,195.36 L678.87,195.06 L679.16,194.75 L679.44,194.45 L679.72,194.14 L680.00,193.84 L680.29,193.54 L680.57,193.24 L680.85,192.94 L681.14,192.64 L681.42,192.34 L681.71,192.04 L682.00,191.75 L682.29,191.46 L682.58,191.17 L682.87,190.88 L683.16,190.59 L683.45,190.31 L683.74,190.03 L684.04,189.75 L684.33,189.48 L684.63,189.20 L684.93,188.94 L685.23,188.67 L685.53,188.41 L685.83,188.15 L686.13,187.89 L686.44,187.64 L686.74,187.39 L687.05,187.15 L687.36,186.91 L687.67,186.67 L687.98,186.44 L688.30,186.21 L688.61,185.99 L688.93,185.77 L689.25,185.56 L689.57,185.35 L689.89,185.15 L690.22,184.96 L690.55,184.76 L690.88,184.58 L691.21,184.40 L691.54,184.23 L691.88,184.06 L692.22,183.90 L692.56,183.74 L692.90,183.59 L693.24,183.45 L693.59,183.31 L693.94,183.19 L694.29,183.06 L694.65,182.95 L695.00,182.84 L695.36,182.74 L695.72,182.65 L696.09,182.57 L696.46,182.49 L696.83,182.42 L697.20,182.36 L697.58,182.31 L697.95,182.26 L698.34,182.23 L698.72,182.20 L699.11,182.18 L699.50,182.17 L699.89,182.17 L700.29,182.17 L700.68,182.18 L701.08,182.19 L701.48,182.21 L701.89,182.24 L702.29,182.27 L702.70,182.31 L703.11,182.35 L703.52,182.40 L703.93,182.45 L704.34,182.50 L704.76,182.55 L705.17,182.61 L705.59,182.68 L706.00,182.74 L706.42,182.81 L706.84,182.87 L707.26,182.94 L707.68,183.01 L708.10,183.08 L708.52,183.15 L708.94,183.22 L709.36,183.29 L709.78,183.36 L710.20,183.43 L710.62,183.50 L711.04,183.56 L711.46,183.63 L711.87,183.69 L712.29,183.75 L712.71,183.80 L713.12,183.85 L713.54,183.90 L713.95,183.94 L714.36,183.98 L714.77,184.02 L715.18,184.05 L715.59,184.07 L715.99,184.09 L716.40,184.10 L716.80,184.11 L717.20,184.11 L717.60,184.10 L717.99,184.08 L718.38,184.06 L718.77,184.03 L719.16,183.99 L719.55,183.94 L719.93,183.89 L720.31,183.82 L720.69,183.74 L721.06,183.66 L721.43,183.56 L721.80,183.45 L722.16,183.33 L722.52,183.21 L722.88,183.07 L723.23,182.92 L723.58,182.76 L723.93,182.60 L724.28,182.42 L724.62,182.24 L724.96,182.05 L725.30,181.85 L725.63,181.64 L725.97,181.43 L726.30,181.21 L726.63,180.98 L726.96,180.75 L727.28,180.51 L727.61,180.26 L727.93,180.01 L728.25,179.75 L728.57,179.49 L728.89,179.23 L729.21,178.96 L729.53,178.69 L729.84,178.41 L730.16,178.13 L730.47,177.85 L730.78,177.56 L731.10,177.27 L731.41,176.98 L731.72,176.69 L732.03,176.40 L732.35,176.10 L732.66,175.81 L732.97,175.51 L733.28,175.22 L733.59,174.92 L733.91,174.63 L734.22,174.33 L734.53,174.04 L734.85,173.74 L735.16,173.45 L735.48,173.16 L735.80,172.88 L736.11,172.59 L736.43,172.31 L736.75,172.03 L737.08,171.76 L737.40,171.49 L737.73,171.22 L738.05,170.96 L738.38,170.70 L738.71,170.45 L739.04,170.20 L739.38,169.95 L739.71,169.72 L740.05,169.49 L740.40,169.26 L740.74,169.05 L741.09,168.83 L741.43,168.63 L741.79,168.44 L742.14,168.25 L742.50,168.07 L742.86,167.90 L743.23,167.74 L743.59,167.58 L743.96,167.44 L744.34,167.31 L744.71,167.18 L745.09,167.06 L745.48,166.96 L745.86,166.86 L746.25,166.77 L746.64,166.68 L747.03,166.61 L747.42,166.54 L747.82,166.49 L748.21,166.44 L748.61,166.40 L749.01,166.37 L749.41,166.34 L749.81,166.32 L750.21,166.31 L750.62,166.31 L751.02,166.32 L751.43,166.33 L751.83,166.36 L752.24,166.39 L752.64,166.42 L753.05,166.47 L753.45,166.52 L753.85,166.58 L754.26,166.64 L754.66,166.71 L755.07,166.79 L755.47,166.88 L755.87,166.97 L756.27,167.07 L756.67,167.18 L757.06,167.29 L757.46,167.41 L757.85,167.54 L758.24,167.67 L758.63,167.81 L759.02,167.95 L759.41,168.10 L759.79,168.26 L760.17,168.42 L760.55,168.59 L760.92,168.77 L761.29,168.95 L761.66,169.13 L762.03,169.33 L762.39,169.52 L762.75,169.72 L763.10,169.93 L763.46,170.15 L763.80,170.36 L764.15,170.59 L764.48,170.82 L764.82,171.05" fill="none" stroke="#cc3596" stroke-width="1.85" stroke-linejoin="round" stroke-linecap="round"/>
<path d="M541.63,214.64 L542.55,214.39 L543.47,214.20 L544.39,214.07 L545.32,213.99 L546.26,213.96 L547.19,213.97 L548.13,214.02 L549.07,214.10 L550.01,214.22 L550.96,214.37 L551.90,214.54 L552.85,214.73 L553.80,214.94 L554.75,215.16 L555.70,215.39 L556.65,215.63 L557.60,215.87 L558.55,216.11 L559.50,216.34 L560.44,216.57 L561.39,216.78 L562.33,216.97 L563.27,217.15 L564.21,217.30 L565.14,217.42 L566.07,217.51 L567.00,217.56 L567.93,217.58 L568.85,217.55 L569.76,217.48 L570.67,217.35 L571.58,217.17 L572.47,216.94 L573.36,216.65 L574.24,216.31 L575.11,215.93 L575.95,215.50 L576.78,215.04 L577.59,214.53 L578.37,214.00 L579.12,213.44 L579.85,212.85 L580.57,212.24 L581.26,211.60 L581.94,210.95 L582.60,210.28 L583.25,209.59 L583.90,208.90 L584.53,208.19 L585.16,207.48 L585.79,206.77 L586.42,206.05 L587.06,205.34 L587.69,204.63 L588.33,203.92 L588.97,203.21 L589.61,202.51 L590.25,201.81 L590.89,201.10 L591.54,200.40 L592.18,199.70 L592.83,199.00 L593.47,198.30 L594.12,197.61 L594.76,196.91 L595.41,196.21 L596.05,195.51 L596.69,194.82 L597.34,194.12 L597.97,193.42 L598.61,192.72 L599.25,192.02 L599.88,191.32 L600.51,190.61 L601.13,189.91 L601.76,189.20 L602.37,188.50 L602.99,187.79 L603.60,187.07 L604.21,186.36 L604.81,185.64 L605.40,184.92 L606.00,184.20 L606.59,183.47 L607.17,182.74 L607.75,182.01 L608.33,181.27 L608.90,180.53 L609.47,179.78 L610.04,179.03 L610.61,178.27 L611.17,177.51 L611.73,176.74 L612.29,175.96 L612.85,175.18 L613.41,174.39 L613.96,173.59 L614.51,172.79 L615.07,171.98 L615.62,171.16 L616.18,170.35 L616.75,169.55 L617.33,168.76 L617.93,168.00 L618.54,167.25 L619.17,166.53 L619.82,165.85 L620.51,165.21 L621.22,164.61 L621.96,164.07 L622.73,163.57 L623.55,163.14 L624.40,162.78 L625.29,162.49 L626.19,162.29 L627.09,162.19 L627.98,162.21 L628.84,162.36 L629.66,162.65 L630.42,163.09 L631.13,163.67 L631.79,164.36 L632.41,165.13 L633.00,165.97 L633.57,166.84 L634.12,167.72 L634.66,168.59 L635.19,169.45 L635.70,170.30 L636.21,171.15 L636.70,171.99 L637.18,172.83 L637.64,173.66 L638.09,174.49 L638.53,175.32 L638.95,176.15 L639.37,176.97 L639.77,177.80 L640.16,178.62 L640.55,179.45 L640.93,180.28 L641.31,181.10 L641.69,181.93 L642.07,182.76 L642.45,183.59 L642.83,184.43 L643.22,185.26 L643.61,186.10 L644.01,186.94 L644.43,187.79 L644.85,188.64 L645.29,189.49 L645.74,190.35 L646.22,191.21 L646.70,192.08 L647.21,192.95 L647.75,193.83 L648.30,194.70 L648.88,195.57 L649.48,196.41 L650.11,197.22 L650.75,197.97 L651.43,198.67 L652.12,199.29 L652.84,199.82 L653.59,200.26 L654.36,200.58 L655.15,200.78 L655.97,200.84 L656.81,200.75 L657.66,200.52 L658.52,200.17 L659.36,199.70 L660.17,199.14 L660.93,198.51 L661.63,197.81 L662.26,197.06 L662.82,196.27 L663.32,195.44 L663.78,194.58 L664.19,193.70 L664.56,192.80 L664.91,191.88 L665.23,190.96 L665.55,190.04 L665.85,189.13 L666.14,188.21 L666.42,187.29 L666.69,186.38 L666.96,185.47 L667.22,184.55 L667.47,183.64 L667.72,182.73 L667.96,181.82 L668.21,180.92 L668.44,180.01 L668.68,179.10 L668.92,178.19 L669.15,177.29 L669.39,176.38 L669.63,175.47 L669.87,174.56 L670.12,173.66 L670.36,172.75 L670.62,171.84 L670.87,170.93 L671.13,170.02 L671.40,169.12 L671.66,168.21 L671.93,167.30 L672.19,166.38 L672.46,165.47 L672.73,164.56 L673.00,163.65 L673.27,162.74 L673.53,161.82 L673.80,160.91 L674.06,159.99 L674.32,159.08 L674.57,158.16 L674.83,157.24 L675.07,156.33 L675.32,155.41 L675.56,154.49 L675.79,153.57 L676.01,152.65 L676.24,151.73 L676.45,150.81 L676.66,149.88 L676.87,148.96 L677.07,148.04 L677.27,147.11 L677.46,146.18 L677.65,145.26 L677.84,144.33 L678.02,143.40 L678.19,142.48 L678.36,141.55 L678.53,140.62 L678.70,139.69 L678.86,138.76 L679.02,137.83 L679.17,136.90 L679.33,135.96 L679.48,135.03 L679.62,134.10 L679.77,133.17 L679.91,132.23 L680.05,131.30 L680.19,130.36 L680.32,129.43 L680.46,128.49 L680.59,127.56 L680.72,126.62 L680.85,125.68 L680.98,124.75 L681.10,123.81 L681.23,122.87 L681.35,121.93 L681.47,120.99 L681.60,120.06 L681.72,119.12 L681.84,118.18 L681.96,117.24 L682.08,116.30 L682.20,115.36 L682.33,114.42 L682.45,113.48 L682.57,112.54 L682.69,111.60 L682.81,110.66 L682.94,109.72 L683.06,108.78 L683.18,107.84 L683.30,106.89 L683.43,105.95 L683.55,105.01 L683.68,104.07 L683.80,103.13 L683.93,102.19 L684.05,101.25 L684.18,100.31 L684.30,99.36 L684.43,98.42 L684.56,97.48 L684.68,96.54 L684.81,95.60 L684.94,94.66 L685.07,93.72 L685.20,92.77 L685.33,91.83 L685.46,90.89 L685.59,89.95 L685.72,89.01 L685.85,88.07 L685.98,87.13 L686.11,86.19 L686.25,85.25 L686.38,84.31 L686.52,83.37 L686.65,82.43 L686.79,81.49 L686.93,80.55 L687.06,79.62 L687.20,78.68 L687.34,77.74 L687.48,76.80 L687.62,75.86 L687.76,74.93 L687.90,73.99 L688.05,73.05 L688.19,72.12 L688.33,71.18 L688.48,70.25 L688.62,69.31 L688.77,68.38 L688.92,67.44 L689.07,66.51 L689.22,65.58 L689.37,64.64 L689.52,63.71 L689.67,62.78 L689.82,61.85 L689.98,60.92 L690.13,59.99 L690.29,59.06 L690.44,58.13 L690.60,57.20 L690.76,56.27 L690.92,55.34 L691.08,54.42 L691.24,53.49 L691.41,52.57 L691.57,51.64 L691.74,50.72 L691.90,49.79 L692.07,48.87 L692.24,47.95 L692.41,47.03 L692.58,46.10 L692.75,45.18 L692.92,44.26 L693.09,43.33 L693.27,42.41 L693.44,41.48 L693.62,40.55 L693.79,39.62 L693.96,38.69 L694.14,37.75 L694.31,36.81 L694.49,35.87 L694.66,34.92 L694.84,33.97 L695.01,33.02 L695.18,32.06 L695.35,31.10 L695.53,30.13 L695.70,29.16 L695.89,28.19 L696.10,27.23 L696.35,26.29 L696.64,25.37 L696.98,24.49 L697.39,23.63 L697.88,22.83 L698.44,22.07 L699.08,21.41 L699.78,20.89 L700.52,20.53 L701.30,20.40 L702.10,20.51 L702.89,20.82 L703.65,21.31 L704.36,21.93 L704.99,22.65 L705.52,23.43 L705.97,24.27 L706.35,25.15 L706.67,26.07 L706.95,27.01 L707.20,27.97 L707.43,28.94 L707.65,29.90 L707.88,30.85 L708.11,31.80 L708.34,32.74 L708.58,33.67 L708.81,34.60 L709.05,35.52 L709.28,36.44 L709.51,37.35 L709.74,38.27 L709.97,39.18 L710.20,40.09 L710.43,41.00 L710.65,41.91 L710.87,42.82 L711.08,43.73 L711.30,44.64 L711.50,45.56 L711.71,46.47 L711.91,47.39 L712.11,48.31 L712.30,49.23 L712.49,50.15 L712.68,51.07 L712.87,51.99 L713.05,52.92 L713.23,53.84 L713.41,54.77 L713.58,55.69 L713.76,56.62 L713.93,57.55 L714.09,58.48 L714.26,59.41 L714.42,60.34 L714.58,61.27 L714.74,62.20 L714.90,63.13 L715.05,64.06 L715.20,65.00 L715.35,65.93 L715.50,66.87 L715.65,67.80 L715.79,68.74 L715.94,69.68 L716.08,70.61 L716.22,71.55 L716.36,72.49 L716.50,73.43 L716.63,74.37 L716.77,75.31 L716.91,76.25 L717.04,77.19 L717.17,78.13 L717.30,79.07 L717.44,80.01 L717.57,80.95 L717.70,81.89 L717.83,82.83 L717.96,83.77 L718.09,84.72 L718.21,85.66 L718.34,86.60 L718.47,87.54 L718.60,88.48 L718.73,89.43 L718.86,90.37 L718.99,91.31 L719.11,92.25 L719.24,93.19 L719.37,94.13 L719.50,95.07 L719.63,96.02 L719.76,96.96 L719.90,97.90 L720.03,98.84 L720.16,99.78 L720.29,100.72 L720.43,101.66 L720.57,102.59 L720.70,103.53 L720.84,104.47 L720.98,105.41 L721.12,106.35 L721.26,107.29 L721.40,108.22 L721.54,109.16 L721.69,110.10 L721.83,111.03 L721.98,111.97 L722.12,112.90 L722.27,113.84 L722.42,114.77 L722.57,115.71 L722.72,116.64 L722.87,117.58 L723.03,118.51 L723.18,119.45 L723.34,120.38 L723.50,121.31 L723.66,122.25 L723.82,123.18 L723.98,124.11 L724.14,125.04 L724.31,125.97 L724.47,126.90 L724.64,127.83 L724.81,128.77 L724.98,129.70 L725.15,130.63 L725.32,131.55 L725.50,132.48 L725.68,133.41 L725.86,134.34 L726.04,135.27 L726.22,136.20 L726.40,137.12 L726.59,138.05 L726.77,138.98 L726.96,139.91 L727.15,140.83 L727.35,141.76 L727.54,142.68 L727.74,143.61 L727.93,144.53 L728.13,145.46 L728.34,146.38 L728.54,147.31 L728.74,148.23 L728.95,149.15 L729.16,150.08 L729.37,151.00 L729.59,151.92 L729.80,152.84 L730.02,153.77 L730.24,154.69 L730.47,155.61 L730.69,156.53 L730.92,157.45 L731.15,158.37 L731.38,159.29 L731.61,160.21 L731.85,161.13 L732.08,162.04 L732.32,162.96 L732.57,163.88 L732.81,164.80 L733.06,165.72 L733.31,166.63 L733.56,167.55 L733.81,168.46 L734.07,169.38 L734.32,170.29 L734.58,171.21 L734.84,172.12 L735.10,173.04 L735.37,173.95 L735.63,174.86 L735.90,175.77 L736.16,176.68 L736.43,177.60 L736.70,178.51 L736.97,179.42 L737.24,180.32 L737.51,181.23 L737.78,182.14 L738.05,183.05 L738.32,183.95 L738.60,184.86 L738.87,185.76 L739.14,186.67 L739.42,187.57 L739.70,188.47 L739.99,189.37 L740.28,190.27 L740.57,191.16 L740.87,192.06 L741.18,192.95 L741.49,193.83 L741.81,194.72 L742.14,195.60 L742.48,196.48 L742.83,197.35 L743.19,198.23 L743.56,199.09 L743.94,199.96 L744.34,200.81 L744.75,201.67 L745.17,202.52 L745.61,203.36 L746.06,204.20 L746.53,205.03 L747.02,205.86 L747.52,206.68 L748.05,207.49 L748.58,208.29 L749.14,209.08 L749.71,209.85 L750.29,210.61 L750.90,211.36 L751.52,212.09 L752.16,212.80 L752.81,213.49 L753.49,214.16 L754.18,214.81 L754.89,215.44 L755.61,216.04 L756.35,216.62 L757.12,217.17 L757.89,217.70 L758.69,218.19 L759.51,218.66 L760.34,219.09 L761.19,219.49 L762.06,219.86 L762.94,220.19 L763.85,220.48 L764.77,220.74" fill="none" stroke="#9616e4" stroke-width="1.85" stroke-linejoin="round" stroke-linecap="round"/>
<line x1="623.4" y1="28.3" x2="623.4" y2="143" stroke="#000" stroke-width="2.5" stroke-dasharray="4.2,1.2"/>
<polygon points="617.9,142.1 623.4,144.2 629,142.1 623.4,154.5" fill="#000"/>
<text x="16.4" y="323.4" font-size="20.7">C</text>
<ellipse cx="97.4" cy="410.7" rx="72.2" ry="72.4" fill="#a33ae4"/>
<path d="M97.4,410.7 L140.57,352.67 A72.2,72.4 0 0 1 169.53,407.52 Z" fill="#cd4ba0"/>
<path d="M97.4,410.7 L120.79,342.20 A72.2,72.4 0 0 1 140.75,352.80 Z" fill="#1018f0"/>
<path d="M97.4,410.7 L97.40,338.30 A72.2,72.4 0 0 1 121.00,342.28 Z" fill="#00a500"/>
<text transform="translate(109.6,337.5) rotate(-44)" font-size="14.5" fill="#0a8a0a">5.3%</text>
<text transform="translate(135,346.5) rotate(-43)" font-size="14.5" fill="#1a1af0">4.9%</text>
<text transform="translate(164.4,380.3) scale(0.99,1.07)" font-size="15" fill="#c8308c">14.1%</text>
<text transform="translate(48.2,425.4) scale(1,1.05)" font-size="15.5">75.7%</text>
<text x="229.8" y="323.6" font-size="20.7">D</text>
<line x1="267.5" y1="324.9" x2="267.5" y2="457.2" stroke="#000" stroke-width="2"/>
<line x1="342.3" y1="324.9" x2="342.3" y2="457.2" stroke="#000" stroke-width="2"/>
<line x1="390.9" y1="324.9" x2="390.9" y2="457.2" stroke="#000" stroke-width="2"/>
<line x1="471.5" y1="324.9" x2="471.5" y2="457.2" stroke="#000" stroke-width="2"/>
<line x1="543.3" y1="324.9" x2="543.3" y2="457.2" stroke="#000" stroke-width="2"/>
<line x1="632" y1="324.9" x2="632" y2="457.2" stroke="#000" stroke-width="2"/>
<line x1="723.4" y1="324.9" x2="723.4" y2="457.2" stroke="#000" stroke-width="2"/>
<line x1="266.5" y1="325.9" x2="724.4" y2="325.9" stroke="#000" stroke-width="2"/>
<line x1="266.5" y1="357.8" x2="724.4" y2="357.8" stroke="#000" stroke-width="2"/>
<line x1="266.5" y1="373.8" x2="724.4" y2="373.8" stroke="#000" stroke-width="2"/>
<line x1="266.5" y1="407.7" x2="724.4" y2="407.7" stroke="#000" stroke-width="2"/>
<line x1="266.5" y1="439.8" x2="724.4" y2="439.8" stroke="#000" stroke-width="2"/>
<line x1="266.5" y1="456.2" x2="724.4" y2="456.2" stroke="#000" stroke-width="2"/>
<text x="349.3" y="338.6" font-size="14" fill="#000" style="font-kerning:none">Total</text>
<text x="397.9" y="338.6" font-size="14" fill="#9428e6" >Tandem</text>
<text x="397.9" y="353.9" font-size="14" fill="#9428e6" >close</text>
<text x="479.7" y="338.6" font-size="14" fill="#cc3d8f" >Tandem</text>
<text x="479.7" y="353.9" font-size="14" fill="#cc3d8f" >far</text>
<text x="551.6" y="338.6" font-size="14" fill="#1a1ae6" >Convergent</text>
<text x="551.6" y="353.9" font-size="14" fill="#1a1ae6" >close</text>
<text x="639.2" y="338.6" font-size="14" fill="#108c10" >Convergent</text>
<text x="639.2" y="353.9" font-size="14" fill="#108c10" >far</text>
<text x="275.0" y="370.6" font-size="14" fill="#000" >Genome</text>
<text x="349.3" y="370.6" font-size="14" fill="#000" >5143</text>
<text x="397.9" y="370.6" font-size="14" fill="#9428e6" >1660</text>
<text x="479.7" y="370.6" font-size="14" fill="#cc3d8f" >763</text>
<text x="551.6" y="370.6" font-size="14" fill="#1a1ae6" >714</text>
<text x="639.2" y="370.6" font-size="14" fill="#108c10" >306</text>
<text x="275.0" y="387.4" font-size="14" fill="#000" >AS down</text>
<text x="275.0" y="402.6" font-size="14" fill="#000" >actual</text>
<text x="349.3" y="387.4" font-size="14" fill="#000" >255</text>
<text x="397.9" y="387.4" font-size="14" fill="#9428e6" >152</text>
<text x="479.7" y="387.4" font-size="14" fill="#cc3d8f" >52</text>
<text x="551.6" y="387.4" font-size="14" fill="#1a1ae6" >30</text>
<text x="639.2" y="387.4" font-size="14" fill="#108c10" >21</text>
<text x="275.0" y="419.8" font-size="14" fill="#000" >AS down</text>
<text x="275.0" y="435.4" font-size="14" fill="#000" >expected</text>
<text x="349.3" y="419.8" font-size="14" fill="#000" >-</text>
<text x="397.9" y="419.8" font-size="14" fill="#9428e6" >82</text>
<text x="479.7" y="419.8" font-size="14" fill="#cc3d8f" >36</text>
<text x="551.6" y="419.8" font-size="14" fill="#1a1ae6" >35</text>
<text x="639.2" y="419.8" font-size="14" fill="#108c10" >15</text>
<text x="275.0" y="452.5" font-size="14" fill="#000" ><tspan font-style="italic">p</tspan>-value</text>
<text x="349.3" y="452.5" font-size="14" fill="#000" >-</text>
<text x="397.9" y="452.5" font-size="14" font-weight="bold" fill="#9428e6">3.9 x 10<tspan font-size="8.5" dy="-7">-20</tspan></text>
<text x="479.7" y="452.5" font-size="14" fill="#cc3d8f" >0.014</text>
<text x="551.6" y="452.5" font-size="14" fill="#1a1ae6" >0.35</text>
<text x="639.2" y="452.5" font-size="14" fill="#108c10" >0.13</text>
</svg>
</body></html>
